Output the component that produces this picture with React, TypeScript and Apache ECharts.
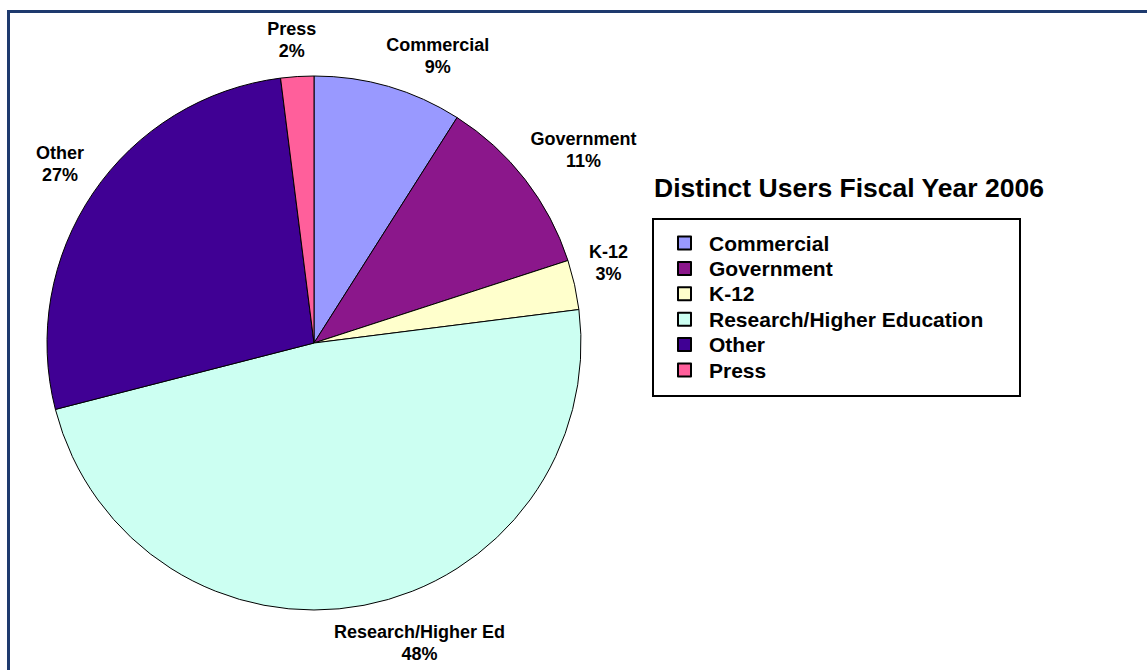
import { useEffect, useRef } from 'react';
import * as echarts from 'echarts';

// ---- data ----
const categories = ['Commercial', 'Government', 'K-12', 'Research/Higher Education', 'Other', 'Press'];
const sliceLabels = ['Commercial', 'Government', 'K-12', 'Research/Higher Ed', 'Other', 'Press'];
const shares = [9, 11, 3, 48, 27, 2];
const titleText = 'Distinct Users Fiscal Year 2006';

// ---- styles / layout ----
const colors = ['#9999ff', '#8b178b', '#ffffcc', '#ccfff2', '#400094', '#ff5f9b'];
const labelNudge = [[38, 8], [27, -5], [-5, -13], [48, -2], [0, -6], [-3, 3]];
const CX = 314;
const CY = 343;
const R = 267;
const LABEL_R = R + 40;
const FONT = '"Liberation Sans", Arial, Helvetica, sans-serif';

export default function App() {
  const ref = useRef<HTMLDivElement>(null);

  useEffect(() => {
    document.body.style.margin = '0';
    if (!ref.current) return;
    const chart = echarts.init(ref.current, undefined, { renderer: 'svg' });
    const total = shares.reduce((a, b) => a + b, 0);

    chart.setOption({
      animation: false,
      backgroundColor: '#ffffff',
      title: {
        text: titleText,
        left: 654,
        top: 174,
        padding: 0,
        textStyle: { fontFamily: FONT, fontSize: 26.5, fontWeight: 'bold', color: '#000', lineHeight: 28 },
      },
      legend: {
        orient: 'vertical',
        left: 677,
        top: 232.5,
        padding: 0,
        itemWidth: 13,
        itemHeight: 13,
        itemGap: 4.4,
        icon: 'rect',
        data: categories,
        textStyle: {
          fontFamily: FONT,
          fontSize: 21,
          fontWeight: 'bold',
          color: '#000',
          lineHeight: 21,
          padding: [0, 0, 0, 13],
        },
      },
      graphic: [
        {
          type: 'rect',
          silent: true,
          shape: { x: 8.5, y: 11.5, width: 1400, height: 900 },
          style: { fill: 'none', stroke: '#1e3a6e', lineWidth: 3 },
        },
        {
          type: 'rect',
          silent: true,
          shape: { x: 653, y: 219, width: 367, height: 177 },
          style: { fill: 'none', stroke: '#000', lineWidth: 2 },
        },
      ],
      series: [
        {
          type: 'pie',
          center: [CX, CY],
          radius: R,
          startAngle: 90,
          clockwise: true,
          avoidLabelOverlap: false,
          itemStyle: { borderColor: '#000', borderWidth: 1 },
          emphasis: { disabled: true },
          labelLine: { show: false },
          label: {
            show: true,
            position: 'outside',
            fontFamily: FONT,
            fontSize: 18,
            fontWeight: 'bold',
            color: '#000',
            lineHeight: 22,
            align: 'center',
            formatter: (p: any) => `${sliceLabels[p.dataIndex]}\n${p.value}%`,
          },
          labelLayout: (p: any) => {
            const i = p.dataIndex;
            let cum = 0;
            for (let j = 0; j < i; j++) cum += shares[j];
            const mid = ((cum + shares[i] / 2) / total) * Math.PI * 2;
            return {
              x: CX + LABEL_R * Math.sin(mid) + labelNudge[i][0],
              y: CY - LABEL_R * Math.cos(mid) + labelNudge[i][1],
              align: 'center',
              verticalAlign: 'middle',
            };
          },
          data: categories.map((name, i) => ({
            name,
            value: shares[i],
            itemStyle: { color: colors[i] },
          })),
        },
      ],
    });

    return () => chart.dispose();
  }, []);

  return <div ref={ref} style={{ width: 1147, height: 670 }} />;
}
